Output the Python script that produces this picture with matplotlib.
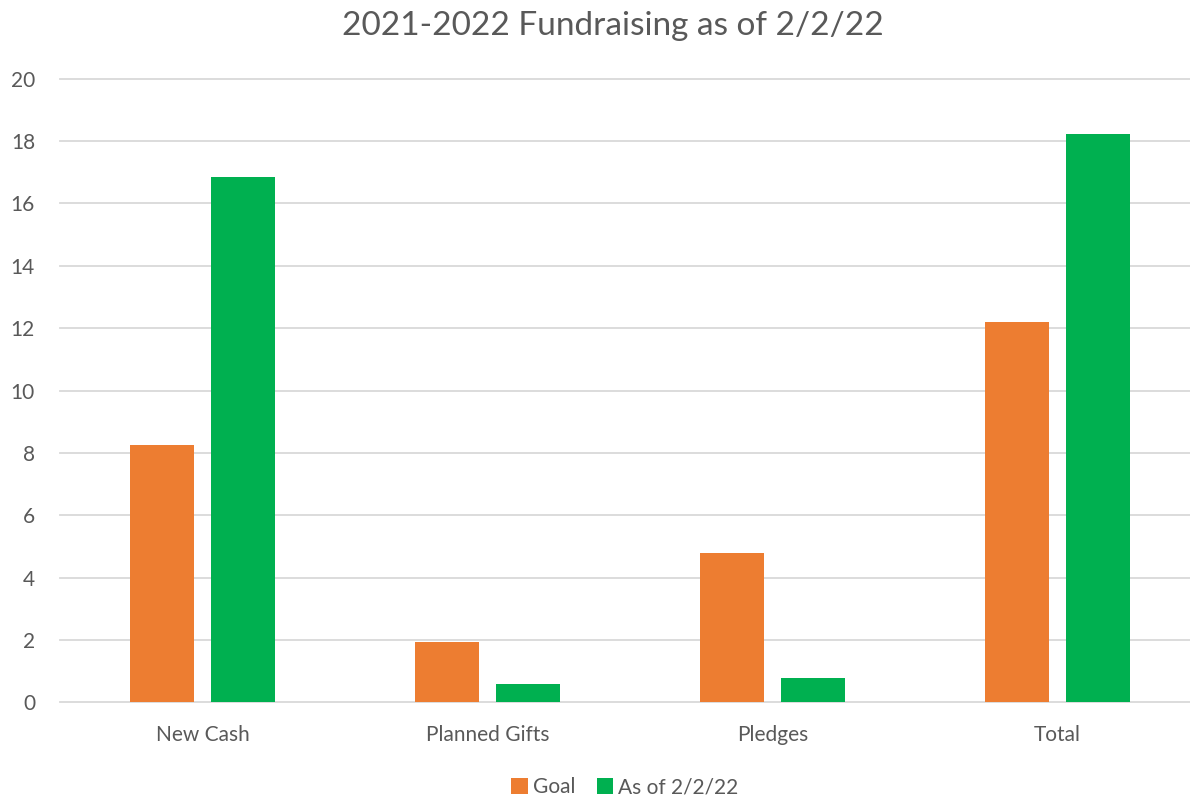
import matplotlib

matplotlib.use("Agg")

import matplotlib.pyplot as plt
import numpy as np

categories = ["New Cash", "Planned Gifts", "Pledges", "Total"]
goal = [8.24, 1.94, 4.79, 12.19]
as_of = [16.84, 0.58, 0.78, 18.22]
series_names = ["Goal", "As of 2/2/22"]
yticks = [0, 2, 4, 6, 8, 10, 12, 14, 16, 18, 20]

ORANGE = "#ED7D31"
GREEN = "#00B050"
TEXT = "#595959"
GRID = "#D9D9D9"

plt.rcParams["font.family"] = ["Lato", "DejaVu Sans"]

fig = plt.figure(figsize=(11.9, 7.97), dpi=100, facecolor="white")
ax = fig.add_axes([60 / 1190, 1 - 702.4 / 797, 1 - 60 / 1190, (702.4 - 78.7) / 797])

x = np.arange(len(categories))
w = 0.2246
off = 0.142
ax.bar(x - off, goal, width=w, color=ORANGE, label=series_names[0], zorder=3)
ax.bar(x + off, as_of, width=w, color=GREEN, label=series_names[1], zorder=3)

ax.set_xlim(-0.5, 3.465)
ax.set_ylim(0, 20)
ax.set_yticks(yticks)
ax.set_xticks(x)
ax.set_xticklabels(categories)
ax.tick_params(axis="both", length=0, labelsize=15, colors=TEXT)
ax.tick_params(axis="y", pad=18)
ax.tick_params(axis="x", pad=16)

for s in ax.spines.values():
    s.set_visible(False)
for t in yticks:
    ax.axhline(t, color=GRID, lw=1.3, zorder=1, clip_on=False)

fig.text(0.515, 1 - 26 / 797, "2021-2022 Fundraising as of 2/2/22",
         ha="center", va="center", fontsize=24, color=TEXT)

ax.legend(loc="center", bbox_to_anchor=(0.5, (702.4 - 787) / (702.4 - 78.7)),
          ncol=2, frameon=False, fontsize=15, labelcolor=TEXT,
          handlelength=0.8, handleheight=0.8, handletextpad=0.25, columnspacing=1.0)

fig.savefig("out.png", dpi=100, facecolor="white")
